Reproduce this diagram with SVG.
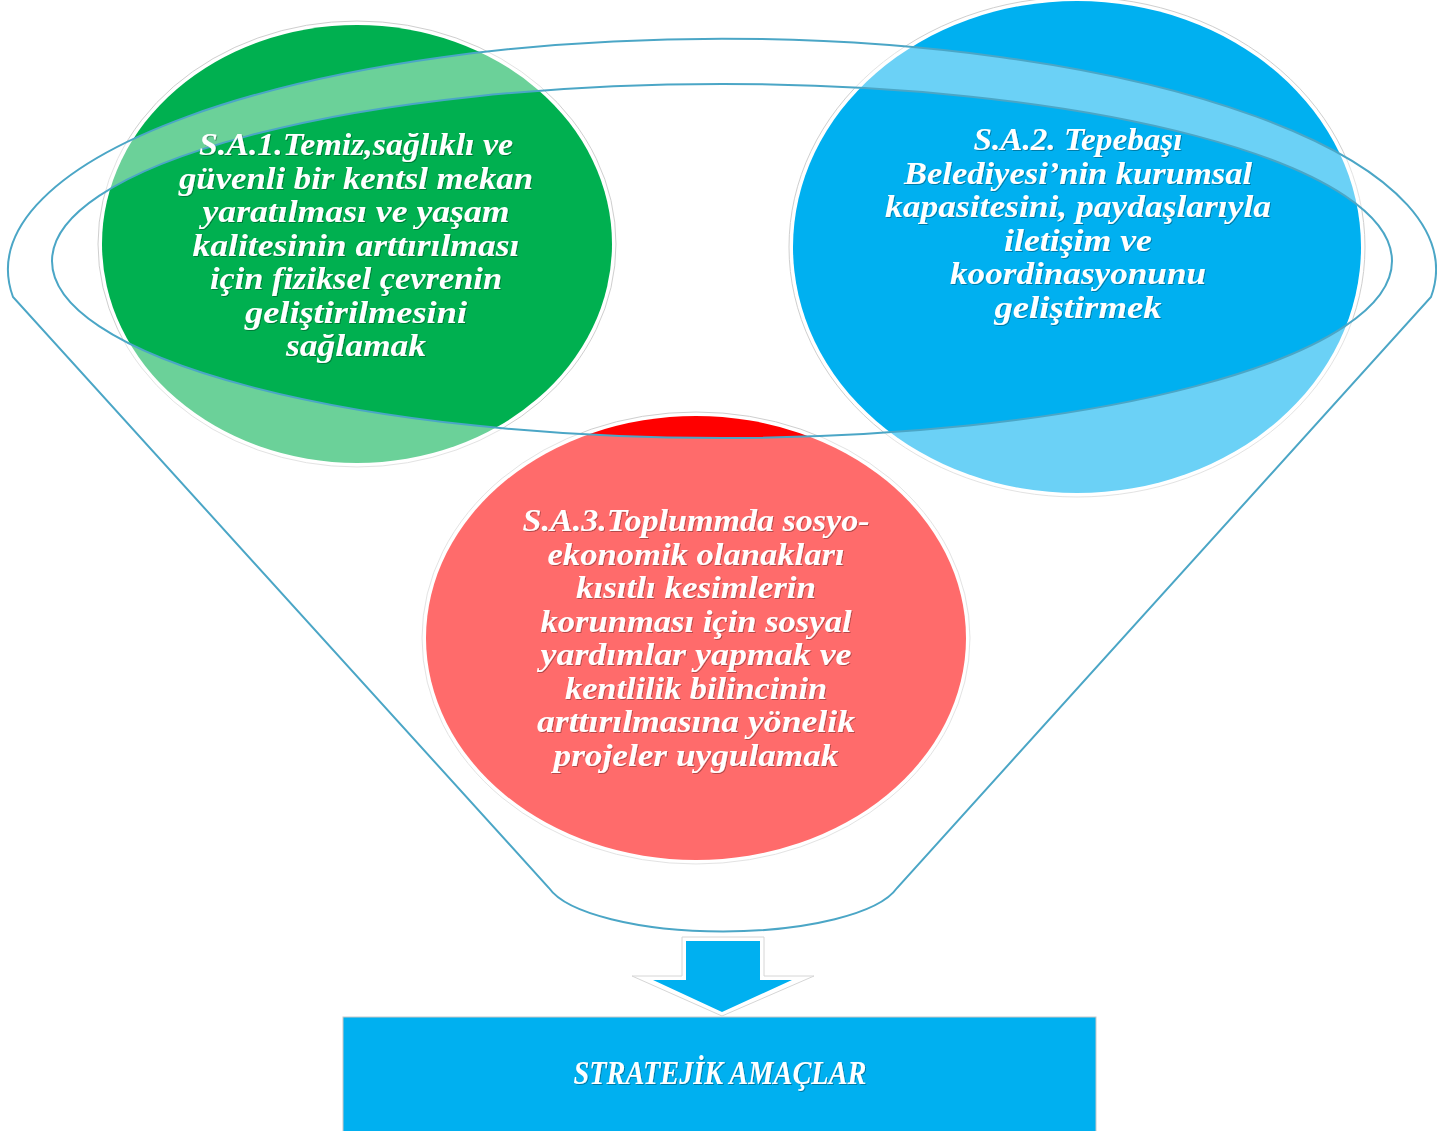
<svg xmlns="http://www.w3.org/2000/svg" width="1437" height="1131" viewBox="0 0 1437 1131">
<style>
.t{font-family:"Liberation Serif","DejaVu Serif",serif;font-weight:bold;font-style:italic;font-size:32px;fill:#ffffff;text-anchor:middle;filter:url(#sh)}
.rim{fill:#ffffff;stroke:#cfcfcf;stroke-width:1}
.fl{fill:none;stroke:#4BA6C6;stroke-width:2}
</style>
<defs>
<filter id="sh" x="-10%" y="-30%" width="120%" height="160%">
<feDropShadow dx="1" dy="1" stdDeviation="0.7" flood-color="#000" flood-opacity="0.3"/>
</filter>
</defs>
<rect width="1437" height="1131" fill="#ffffff"/>
<g id="node-sa1">
<ellipse class="rim" cx="357" cy="244" rx="259" ry="223"/>
<ellipse cx="357" cy="244" rx="255" ry="219" fill="#00B050"/>
</g>
<g id="node-sa2">
<ellipse class="rim" cx="1077" cy="247" rx="288" ry="250"/>
<ellipse cx="1077" cy="247" rx="284" ry="246" fill="#00B0F0"/>
</g>
<g id="node-sa3">
<ellipse class="rim" cx="696" cy="638" rx="274" ry="226"/>
<ellipse cx="696" cy="638" rx="270" ry="222" fill="#FF0000"/>
</g>
<g id="funnel">
<path d="M 13 297 A 714 231 0 1 1 1431 297 L 897 888 A 178 55 0 0 1 549 888 Z M 52 261 A 670 177 0 1 0 1392 261 A 670 177 0 1 0 52 261 Z" fill="#ffffff" fill-opacity="0.42" fill-rule="evenodd"/>
<path class="fl" d="M 13 297 A 714 231 0 1 1 1431 297 L 897 888 A 178 55 0 0 1 549 888 Z"/>
<ellipse class="fl" cx="722" cy="261" rx="670" ry="177"/>
</g>
<g id="texts">
<text class="t" x="356" y="155" textLength="314" lengthAdjust="spacingAndGlyphs">S.A.1.Temiz,sağlıklı ve</text>
<text class="t" x="356" y="188.5" textLength="354" lengthAdjust="spacingAndGlyphs">güvenli bir kentsl mekan</text>
<text class="t" x="356" y="222" textLength="307" lengthAdjust="spacingAndGlyphs">yaratılması ve yaşam</text>
<text class="t" x="356" y="255.5" textLength="327" lengthAdjust="spacingAndGlyphs">kalitesinin arttırılması</text>
<text class="t" x="356" y="289" textLength="292" lengthAdjust="spacingAndGlyphs">için fiziksel çevrenin</text>
<text class="t" x="356" y="322.5" textLength="222" lengthAdjust="spacingAndGlyphs">geliştirilmesini</text>
<text class="t" x="356" y="356" textLength="140" lengthAdjust="spacingAndGlyphs">sağlamak</text>

<text class="t" x="1078" y="150" textLength="209" lengthAdjust="spacingAndGlyphs">S.A.2. Tepebaşı</text>
<text class="t" x="1078" y="183.5" textLength="348" lengthAdjust="spacingAndGlyphs">Belediyesi’nin kurumsal</text>
<text class="t" x="1078" y="217" textLength="386" lengthAdjust="spacingAndGlyphs">kapasitesini, paydaşlarıyla</text>
<text class="t" x="1078" y="250.5" textLength="148" lengthAdjust="spacingAndGlyphs">iletişim ve</text>
<text class="t" x="1078" y="284" textLength="256" lengthAdjust="spacingAndGlyphs">koordinasyonunu</text>
<text class="t" x="1078" y="317.5" textLength="167" lengthAdjust="spacingAndGlyphs">geliştirmek</text>

<text class="t" x="696" y="531" textLength="347" lengthAdjust="spacingAndGlyphs">S.A.3.Toplummda sosyo-</text>
<text class="t" x="696" y="564.5" textLength="297" lengthAdjust="spacingAndGlyphs">ekonomik olanakları</text>
<text class="t" x="696" y="598" textLength="240" lengthAdjust="spacingAndGlyphs">kısıtlı kesimlerin</text>
<text class="t" x="696" y="631.5" textLength="311" lengthAdjust="spacingAndGlyphs">korunması için sosyal</text>
<text class="t" x="696" y="665" textLength="311" lengthAdjust="spacingAndGlyphs">yardımlar yapmak ve</text>
<text class="t" x="696" y="698.5" textLength="262" lengthAdjust="spacingAndGlyphs">kentlilik bilincinin</text>
<text class="t" x="696" y="732" textLength="318" lengthAdjust="spacingAndGlyphs">arttırılmasına yönelik</text>
<text class="t" x="696" y="765.5" textLength="285" lengthAdjust="spacingAndGlyphs">projeler uygulamak</text>
</g>
<g id="connectors">
<polygon points="682,937 764,937 764,976 814,976 722,1016 632,976 682,976" fill="#ffffff" stroke="#d6d6d6" stroke-width="1"/>
<polygon points="686,941 760,941 760,980 792,980 722,1012 653,980 686,980" fill="#00B0F0"/>
</g>
<g id="node-result">
<rect x="343" y="1017" width="753" height="120" fill="#00B0F0" stroke="#c8c8c8" stroke-width="1"/>
<text class="t" x="720" y="1084" style="font-size:33px" textLength="293" lengthAdjust="spacingAndGlyphs">STRATEJİK AMAÇLAR</text>
</g>
</svg>
